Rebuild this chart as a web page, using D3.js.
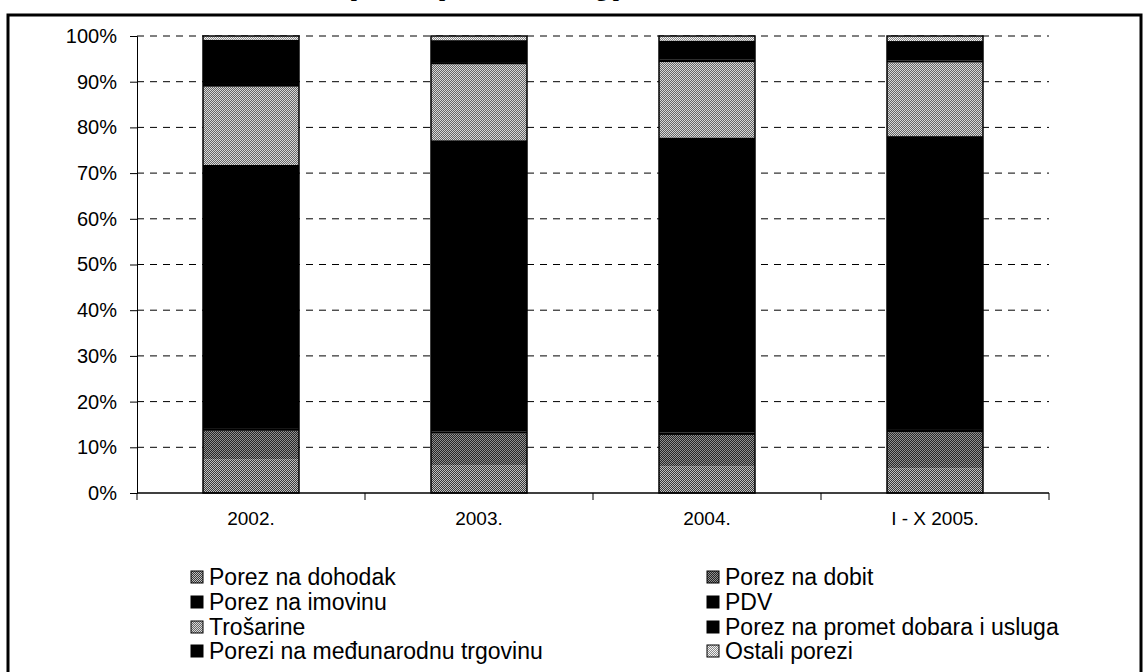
<!DOCTYPE html>
<html>
<head>
<meta charset="utf-8">
<script src="https://cdn.jsdelivr.net/npm/d3@7/dist/d3.min.js"></script>
<style>
  html, body { margin: 0; padding: 0; background: #fff; }
  svg { display: block; }
  text { font-family: "Liberation Sans", Arial, sans-serif; fill: #000; }
</style>
</head>
<body>
<svg id="chart" width="1143" height="672"></svg>
<script>
// ---- data (shares of total, %) ----
const categories = ["2002.", "2003.", "2004.", "I - X 2005."];
const seriesNames = [
  "Porez na dohodak", "Porez na dobit", "Porez na imovinu", "PDV",
  "Trošarine", "Porez na promet dobara i usluga",
  "Porezi na međunarodnu trgovinu", "Ostali porezi"
];
const porezNaDohodak   = [7.4, 6.1, 5.8, 5.4];
const porezNaDobit     = [6.2, 6.9, 6.9, 7.9];
const porezNaImovinu   = [0.6, 0.5, 0.5, 0.5];
const pdv              = [57.6, 63.7, 64.6, 64.3];
const trosarine        = [17.1, 16.6, 16.5, 16.1];
const porezNaPromet    = [0.6, 0.5, 0.5, 0.4];
const poreziMedjTrg    = [9.7, 4.8, 4.2, 4.3];
const ostaliPorezi     = [0.8, 0.9, 1.0, 1.1];
const yTickValues      = [0, 10, 20, 30, 40, 50, 60, 70, 80, 90, 100];
const titleText = "Struktura poreznih prihoda državnog proračuna od 2002. do 2005.";

const seriesValues = [porezNaDohodak, porezNaDobit, porezNaImovinu, pdv,
  trosarine, porezNaPromet, poreziMedjTrg, ostaliPorezi];
const table = categories.map((c, i) => {
  const row = { cat: c };
  seriesNames.forEach((s, j) => row[s] = seriesValues[j][i]);
  return row;
});

// ---- layout ----
const svg = d3.select("#chart");
const plot = { left: 137, right: 1049, top: 36, bottom: 493 };
const pad = 0.579;

const defs = svg.append("defs");
function checker(id, base, dot, step) {
  const p = defs.append("pattern").attr("id", id)
    .attr("patternUnits", "userSpaceOnUse").attr("width", step).attr("height", step);
  p.append("rect").attr("width", step).attr("height", step).attr("fill", base);
  p.append("rect").attr("width", 1).attr("height", 1).attr("fill", dot);
  p.append("rect").attr("x", step / 2).attr("y", step / 2).attr("width", 1).attr("height", 1).attr("fill", dot);
}
checker("pDoh", "#3a3a3a", "#c0c0c0", 2);
checker("pDob", "#262626", "#909090", 2);
checker("pTro", "#666666", "#d8d8d8", 2);
checker("pOst", "#8a8a8a", "#f4f4f4", 2);

const fills = ["url(#pDoh)", "url(#pDob)", "#000", "#000", "url(#pTro)", "#000", "#000", "url(#pOst)"];

const x = d3.scaleBand().domain(categories).range([plot.left, plot.right])
  .paddingInner(pad).paddingOuter(pad / 2);
const y = d3.scaleLinear().domain([0, 100]).range([plot.bottom, plot.top]);

// frame
svg.append("rect").attr("x", 8).attr("y", 15).attr("width", 1133).attr("height", 720)
  .attr("fill", "none").attr("stroke", "#000").attr("stroke-width", 3);

// title (cut off at the top like the reference)
svg.append("text").attr("x", 565).attr("y", -4)
  .attr("text-anchor", "middle")
  .style("font-family", "'Liberation Serif', 'Times New Roman', serif")
  .style("font-weight", "bold").style("font-size", "22px")
  .text(titleText);

// gridlines
svg.append("g").selectAll("line").data(yTickValues.filter(v => v > 0)).join("line")
  .attr("x1", plot.left).attr("x2", plot.right)
  .attr("y1", d => y(d)).attr("y2", d => y(d))
  .attr("stroke", "#000").attr("stroke-width", 1).attr("stroke-dasharray", "7,6");

// y axis
const yAxis = svg.append("g").attr("transform", `translate(${plot.left},0)`)
  .call(d3.axisLeft(y).tickValues(yTickValues).tickFormat(d => d + "%").tickSize(7).tickPadding(13));
yAxis.select(".domain").attr("stroke", "#000");
yAxis.selectAll("text").style("font-size", "20px").style("font-family", "'Liberation Sans', Arial, sans-serif");

// stacked bars
const stack = d3.stack().keys(seriesNames)(table);
svg.append("g").selectAll("g").data(stack).join("g")
  .attr("fill", (d, i) => fills[i])
  .selectAll("rect").data(d => d).join("rect")
  .attr("x", d => x(d.data.cat))
  .attr("width", x.bandwidth())
  .attr("y", d => y(d[1]))
  .attr("height", d => y(d[0]) - y(d[1]));

// bar outlines
svg.append("g").selectAll("rect").data(table).join("rect")
  .attr("x", d => x(d.cat)).attr("width", x.bandwidth())
  .attr("y", d => y(d3.sum(seriesNames, s => d[s])))
  .attr("height", d => y(0) - y(d3.sum(seriesNames, s => d[s])))
  .attr("fill", "none").attr("stroke", "#000").attr("stroke-width", 1.5);

// x axis
const xg = svg.append("g");
xg.append("line").attr("x1", plot.left).attr("x2", plot.right)
  .attr("y1", y(0)).attr("y2", y(0)).attr("stroke", "#000").attr("stroke-width", 1.5);
const boundaries = categories.map(c => x(c) - x.step() * pad / 2).concat([plot.right]);
xg.selectAll(".tk").data(boundaries).join("line").attr("class", "tk")
  .attr("x1", d => d).attr("x2", d => d)
  .attr("y1", y(0)).attr("y2", y(0) + 7).attr("stroke", "#000");
xg.selectAll(".lbl").data(categories).join("text").attr("class", "lbl")
  .attr("x", d => x(d) + x.bandwidth() / 2).attr("y", y(0) + 32)
  .attr("text-anchor", "middle").style("font-size", "19px")
  .text(d => d);

// legend
const legCols = [191, 707];
const legRows = [577, 602, 627, 651];
const lg = svg.append("g");
seriesNames.forEach((s, i) => {
  const cx = legCols[i % 2], cy = legRows[Math.floor(i / 2)];
  lg.append("rect").attr("x", cx).attr("y", cy - 6).attr("width", 12).attr("height", 12)
    .attr("fill", fills[i]).attr("stroke", "#000").attr("stroke-width", 1);
  lg.append("text").attr("x", cx + 18).attr("y", cy).attr("dy", "0.35em")
    .style("font-size", "23px").text(s);
});
</script>
</body>
</html>
